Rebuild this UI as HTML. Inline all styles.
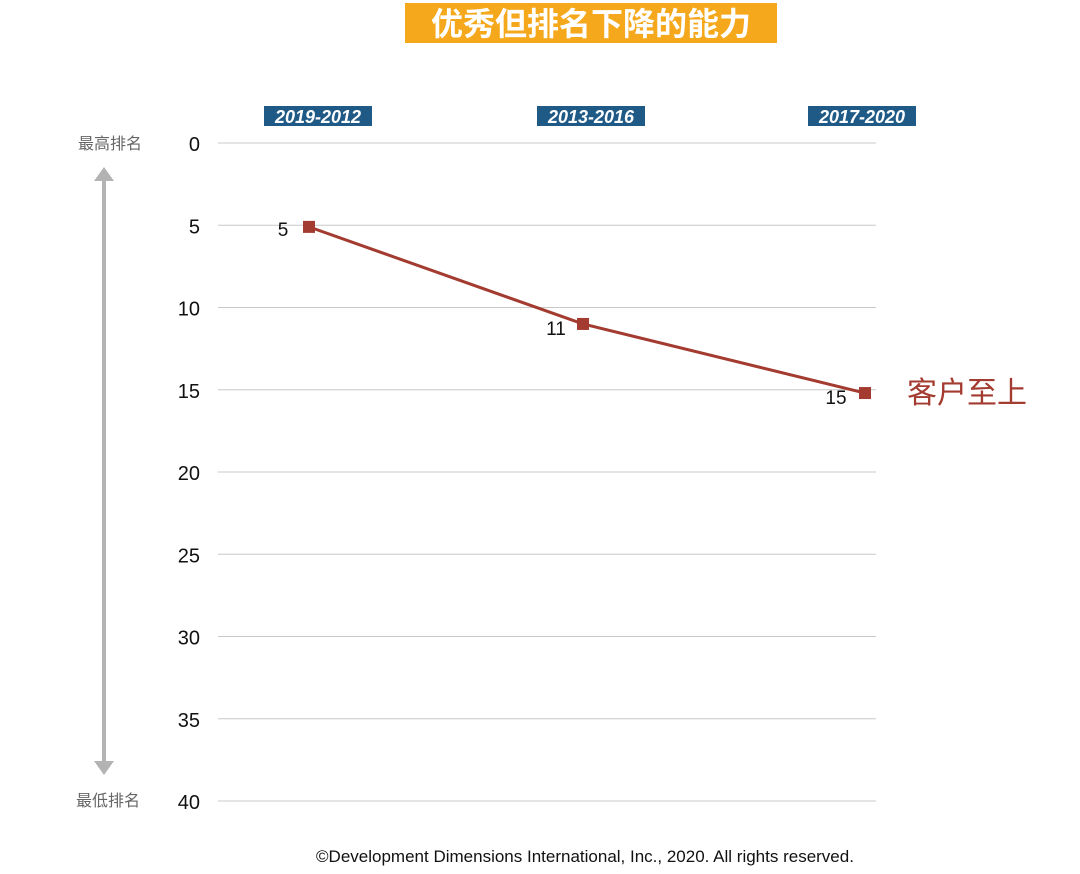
<!DOCTYPE html>
<html><head><meta charset="utf-8"><style>
body{margin:0;width:1080px;height:869px;background:#fff;overflow:hidden;font-family:"Liberation Sans","Noto Sans CJK SC",sans-serif}
</style></head><body>
<svg width="1080" height="869" xmlns="http://www.w3.org/2000/svg" id="chart">
<rect x="405" y="3" width="372" height="40" fill="#f5a81c"/>
<text x="591" y="35" text-anchor="middle" font-size="32" font-weight="bold" fill="#fff" font-family="Noto Sans CJK SC, sans-serif">优秀但排名下降的能力</text>
<g>
<line x1="104" y1="180" x2="104" y2="762" stroke="#b3b3b3" stroke-width="4"/>
<polygon points="104,167 94,181 114,181" fill="#b3b3b3"/>
<polygon points="104,775 94,761 114,761" fill="#b3b3b3"/>
</g>
<text x="110" y="149" text-anchor="middle" font-size="16" fill="#666">最高排名</text>
<text x="108" y="806" text-anchor="middle" font-size="16" fill="#666">最低排名</text>
<g id="grid"></g><g id="heads"></g><g id="series"></g>
<text x="907" y="403" font-size="30" fill="#a33b30">客户至上</text>
<text x="585" y="862" text-anchor="middle" font-size="17" fill="#111">©Development Dimensions International, Inc., 2020. All rights reserved.</text>
</svg>
<script>
const periods=["2019-2012","2013-2016","2017-2020"];
const ranks=[5.1,11.0,15.2];
const rankLabels=["5","11","15"];
const yTicks=[0,5,10,15,20,25,30,35,40];
const NS="http://www.w3.org/2000/svg";
const y=v=>143+v*16.45;
const xPos=[309,583,865];
const x=i=>xPos[i];
function mk(t,a,p,txt){const e=document.createElementNS(NS,t);for(const k in a)e.setAttribute(k,a[k]);if(txt!==undefined)e.textContent=txt;p.appendChild(e);return e;}
const grid=document.getElementById('grid');
yTicks.forEach(v=>{
 const l=mk('line',{x1:218,x2:876,y1:y(v),y2:y(v),stroke:'#c8c8c8','stroke-width':1},grid);
 
 
 const t=mk('text',{x:200,y:y(v)+8,'text-anchor':'end','font-size':20,fill:'#111'},grid,String(v));
 
 
});
const heads=document.getElementById('heads');
const hc=[318,591,862];
periods.forEach((p,i)=>{
 const r=mk('rect',{x:hc[i]-54,y:106,width:108,height:20,fill:'#1f5a87'},heads);
 
 
 const t=mk('text',{x:hc[i],y:123,'text-anchor':'middle','font-size':18,'font-weight':'bold','font-style':'italic',fill:'#fff'},heads,p);
 
 
});
const s=document.getElementById('series');
const pl=mk('polyline',{points:ranks.map((v,i)=>x(i)+','+y(v)).join(' '),fill:'none',stroke:'#a33b30','stroke-width':3},s);


const lo=[[-26,9],[-27,11],[-29,11]];
ranks.forEach((v,i)=>{
 const m=mk('rect',{x:x(i)-6,y:y(v)-6,width:12,height:12,fill:'#a33b30'},s);
 
 
 const t=mk('text',{x:x(i)+lo[i][0],y:y(v)+lo[i][1],'text-anchor':'middle','font-size':19,fill:'#111'},s,rankLabels[i]);
 
 
});
</script>
</body></html>
